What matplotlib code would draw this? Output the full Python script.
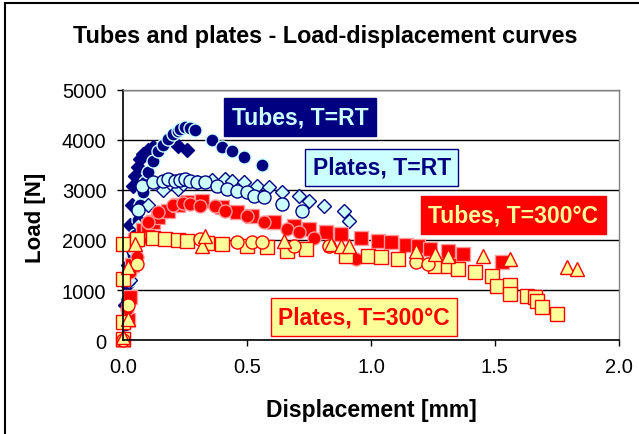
import matplotlib
matplotlib.use('Agg')
import matplotlib.pyplot as plt
from matplotlib.lines import Line2D

plt.rcParams['font.family'] = ['Liberation Sans', 'DejaVu Sans']

# Tubes, T=RT (two specimens)
tubes_rt_d_x = [0.0, 0.005, 0.01, 0.015, 0.02, 0.025, 0.03, 0.036, 0.04, 0.05, 0.06, 0.07, 0.08, 0.10, 0.12, 0.22, 0.26]
tubes_rt_d_y = [0, 300, 700, 1100, 1500, 1900, 2300, 2700, 3080, 3280, 3460, 3620, 3720, 3800, 3860, 3880, 3800]
tubes_rt_c_x = [0.01, 0.02, 0.03, 0.04, 0.05, 0.06, 0.07, 0.08, 0.09, 0.10, 0.12, 0.14, 0.16, 0.18, 0.20,
                0.22, 0.23, 0.25, 0.27, 0.29, 0.36, 0.40, 0.44, 0.49, 0.56]
tubes_rt_c_y = [300, 700, 1200, 1700, 2100, 2400, 2700, 2950, 3150, 3360, 3580, 3780, 3900, 4020, 4120,
                4180, 4220, 4260, 4240, 4200, 4000, 3860, 3780, 3660, 3500]

# Plates, T=RT (two specimens)
plates_rt_d_x = [0.0, 0.03, 0.06, 0.10, 0.16, 0.22, 0.24, 0.30, 0.36, 0.41, 0.44, 0.49, 0.54, 0.59, 0.64,
                 0.71, 0.75, 0.81, 0.89, 0.91]
plates_rt_d_y = [0, 1200, 2300, 2700, 3000, 3020, 3120, 3150, 3200, 3220, 3180, 3160, 3080, 3060, 2960,
                 2880, 2780, 2680, 2580, 2380]
plates_rt_c_x = [0.0, 0.02, 0.04, 0.06, 0.076, 0.12, 0.16, 0.18, 0.21, 0.23, 0.25, 0.27, 0.30, 0.33, 0.38,
                 0.42, 0.46, 0.50, 0.53, 0.57, 0.64, 0.72]
plates_rt_c_y = [0, 800, 1800, 2600, 3080, 3150, 3180, 3220, 3180, 3200, 3220, 3180, 3150, 3160, 3080,
                 3020, 2980, 2960, 2880, 2860, 2720, 2580]

# Tubes, T=300°C (two specimens)
tubes_300_s_x = [0.0, 0.02, 0.028, 0.035, 0.05, 0.08, 0.10, 0.12, 0.14, 0.18, 0.22, 0.26, 0.32, 0.40, 0.46,
                 0.52, 0.61, 0.69, 0.75, 0.82, 0.88, 0.96, 1.03, 1.08, 1.14, 1.19, 1.24, 1.31, 1.37, 1.53]
tubes_300_s_y = [0, 400, 870, 1500, 2000, 2200, 2280, 2360, 2460, 2580, 2700, 2760, 2780, 2660, 2560,
                 2480, 2360, 2280, 2220, 2160, 2120, 2040, 1980, 1950, 1900, 1880, 1820, 1780, 1720, 1560]
tubes_300_c_x = [0.0, 0.016, 0.028, 0.055, 0.07, 0.10, 0.14, 0.20, 0.24, 0.27, 0.31, 0.37, 0.41, 0.50,
                 0.57, 0.66, 0.71, 0.77, 0.83, 0.94]
tubes_300_c_y = [0, 620, 1360, 1650, 2000, 2350, 2560, 2700, 2740, 2720, 2680, 2680, 2580, 2480,
                 2360, 2220, 2160, 2040, 1880, 1620]

# Plates, T=300°C (three specimens)
plates_300_s_x = [0.0, 0.0, 0.0, 0.0, 0.055, 0.12, 0.17, 0.22, 0.26, 0.34, 0.40, 0.50, 0.58, 0.66, 0.74,
                  0.90, 0.99, 1.04, 1.11, 1.26, 1.31, 1.35, 1.42, 1.49, 1.51, 1.56, 1.56, 1.63, 1.66,
                  1.67, 1.69, 1.75]
plates_300_s_y = [20, 360, 1220, 1920, 2020, 2040, 2020, 2000, 1980, 1940, 1920, 1880, 1860, 1780, 1820,
                  1680, 1680, 1660, 1620, 1480, 1480, 1420, 1360, 1280, 1080, 1100, 920, 880, 860,
                  780, 660, 520]
plates_300_c_x = [0.0, 0.02, 0.055, 0.31, 0.46, 0.52, 0.56, 0.69, 0.83, 1.18, 1.23]
plates_300_c_y = [0, 700, 1520, 2020, 1960, 1960, 1960, 1880, 1880, 1560, 1520]
plates_300_t_x = [0.0, 0.02, 0.02, 0.05, 0.32, 0.33, 0.65, 0.84, 0.88, 0.91, 1.18, 1.26, 1.31, 1.45,
                  1.56, 1.79, 1.83]
plates_300_t_y = [60, 420, 1460, 1920, 1880, 2080, 1980, 1920, 1880, 1880, 1780, 1720, 1680, 1680,
                  1620, 1460, 1420]

navy = '#000080'
light_blue = '#CCFFFF'
red = '#FF0000'
pink = '#FF9999'
yellow = '#FFFF99'

fig = plt.figure(figsize=(6.39, 4.35), dpi=100)
ax = fig.add_axes([0.1925, 0.216, 0.776, 0.575])

series = [
    (tubes_rt_d_x, tubes_rt_d_y, 'D', navy, navy, 7.3),
    (tubes_rt_c_x, tubes_rt_c_y, 'o', navy, light_blue, 9.4),
    (plates_rt_d_x, plates_rt_d_y, 'D', light_blue, navy, 7.3),
    (plates_rt_c_x, plates_rt_c_y, 'o', light_blue, navy, 9.4),
    (tubes_300_s_x, tubes_300_s_y, 's', red, pink, 9.6),
    (tubes_300_c_x, tubes_300_c_y, 'o', red, pink, 9.4),
    (plates_300_s_x, plates_300_s_y, 's', yellow, red, 9.6),
    (plates_300_c_x, plates_300_c_y, 'o', yellow, red, 9.4),
    (plates_300_t_x, plates_300_t_y, '^', yellow, red, 10.5),
]
for xs, ys, mk, fc, ec, size in series:
    ax.plot(xs, ys, linestyle='none', marker=mk, markersize=size, markerfacecolor=fc,
            markeredgecolor=ec, markeredgewidth=1.0, clip_on=False)

ax.set_xlim(0, 2.0)
ax.set_ylim(0, 5000)
ax.set_xticks([0.0, 0.5, 1.0, 1.5, 2.0])
ax.set_xticklabels(['0.0', '0.5', '1.0', '1.5', '2.0'])
ax.set_yticks([0, 1000, 2000, 3000, 4000, 5000])
ax.tick_params(axis='both', direction='out', length=4, width=1, labelsize=14.5, pad=8, colors='black')
ax.yaxis.grid(True, color='black', linewidth=1)
ax.set_axisbelow(True)
for side in ['top', 'right']:
    ax.spines[side].set_color('#808080')
    ax.spines[side].set_linewidth(1)
for side in ['left', 'bottom']:
    ax.spines[side].set_color('black')
    ax.spines[side].set_linewidth(1.2)

fig.text(0.509, 0.915, 'Tubes and plates - Load-displacement curves', ha='center', va='center',
         fontsize=16.8, fontweight='bold')
fig.text(0.581, 0.057, 'Displacement [mm]', ha='center', va='center', fontsize=16.5, fontweight='bold')
fig.text(0.055, 0.50, 'Load [N]', ha='center', va='center', rotation=90, fontsize=16, fontweight='bold')

box_font = 16.5
ax.text(0.357, 0.892, 'Tubes, T=RT', transform=ax.transAxes, ha='center', va='center',
        fontsize=box_font, fontweight='bold', color=light_blue,
        bbox=dict(boxstyle='square,pad=0.32', facecolor=navy, edgecolor=navy))
ax.text(0.522, 0.69, 'Plates, T=RT', transform=ax.transAxes, ha='center', va='center',
        fontsize=box_font, fontweight='bold', color=navy,
        bbox=dict(boxstyle='square,pad=0.32', facecolor=light_blue, edgecolor=navy))
ax.text(0.787, 0.5, 'Tubes, T=300°C', transform=ax.transAxes, ha='center', va='center',
        fontsize=box_font, fontweight='bold', color=yellow,
        bbox=dict(boxstyle='square,pad=0.32', facecolor=red, edgecolor=red))
ax.text(0.486, 0.092, 'Plates, T=300°C', transform=ax.transAxes, ha='center', va='center',
        fontsize=box_font, fontweight='bold', color=red,
        bbox=dict(boxstyle='square,pad=0.32', facecolor=yellow, edgecolor=red))

# chart area border (left and top visible)
fig.add_artist(Line2D([0.008, 0.008], [0.0, 0.991], transform=fig.transFigure, color='black', linewidth=1.5))
fig.add_artist(Line2D([0.008, 1.0], [0.991, 0.991], transform=fig.transFigure, color='black', linewidth=1.5))

fig.savefig('out.png', dpi=100)
